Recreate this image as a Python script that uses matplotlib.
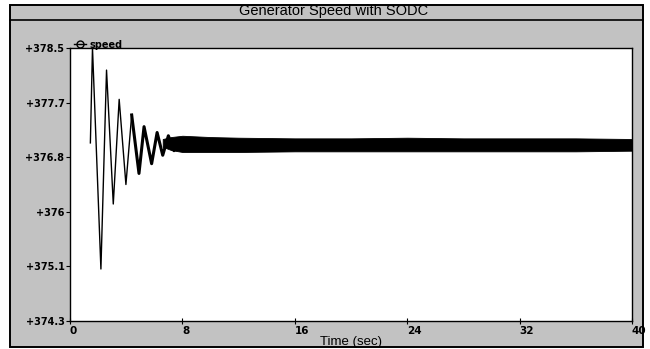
import matplotlib
matplotlib.use("Agg")
import matplotlib.pyplot as plt
from matplotlib.patches import Rectangle
from matplotlib.lines import Line2D

# Transient extremes of generator speed (time in s, speed)
trans_t = [1.45, 1.6, 2.2, 2.6, 3.08, 3.5, 3.98, 4.39, 4.91, 5.27, 5.81, 6.2, 6.6, 7.0, 7.4, 7.8]
trans_v = [377.04, 378.5, 375.1, 378.16, 376.1, 377.71, 376.4, 377.47, 376.57, 377.29,
           376.72, 377.2, 376.85, 377.15, 376.92, 377.08]

# Steady-state noise envelope (time, lower, upper)
band_t = [6.6, 7.2, 8, 10, 12, 16, 20, 24, 28, 32, 36, 40]
band_lo = [376.98, 376.93, 376.9, 376.9, 376.9, 376.91, 376.91, 376.91, 376.91, 376.91, 376.91, 376.92]
band_hi = [377.1, 377.13, 377.15, 377.13, 377.12, 377.11, 377.11, 377.12, 377.11, 377.11, 377.11, 377.1]

y_ticks = [374.3, 375.14, 375.98, 376.82, 377.66, 378.5]
y_labels = ["+374.3", "+375.1", "+376", "+376.8", "+377.7", "+378.5"]
x_ticks = [0, 8, 16, 24, 32, 40]
x_labels = ["0", "8", "16", "24", "32", "40"]

W, H = 650, 349
fig = plt.figure(figsize=(W / 100, H / 100), dpi=100)
fig.patch.set_facecolor("white")

bg = "#c2c2c2"
frame = Rectangle((10 / W, 1 - 347 / H), 633 / W, 342 / H, transform=fig.transFigure,
                  facecolor=bg, edgecolor="black", linewidth=1.4, zorder=-10)
fig.patches.append(frame)
fig.lines.append(Line2D([10 / W, 643 / W], [1 - 20 / H, 1 - 20 / H], transform=fig.transFigure,
                        color="black", linewidth=1.2, zorder=-9))
fig.text(334 / W, 1 - 11.5 / H, "Generator Speed with SODC", ha="center", va="center",
         fontsize=10.5, family="Liberation Sans")

ax = fig.add_axes([70 / W, 1 - 321 / H, 562 / W, 273 / H])
ax.set_zorder(5)
ax.set_facecolor("white")
ax.set_xlim(0, 40)
ax.set_ylim(374.3, 378.5)

ax.fill_between(band_t, band_lo, band_hi, color="black", linewidth=0.6, zorder=2)
ax.plot(trans_t[:8], trans_v[:8], color="black", linewidth=1.0, zorder=3)
ax.plot(trans_t[7:], trans_v[7:], color="black", linewidth=2.2, zorder=3)

ax.set_yticks(y_ticks)
ax.set_yticklabels(y_labels, fontsize=7, fontweight="bold")
ax.set_xticks(x_ticks)
ax.set_xticklabels(x_labels, fontsize=7.5, fontweight="bold", ha="left")
ax.tick_params(axis="y", direction="out", length=3, pad=1)
ax.tick_params(axis="x", direction="inout", length=5, pad=1)
for s in ax.spines.values():
    s.set_color("black")
    s.set_linewidth(1.0)

ax.set_xlabel("Time (sec)", fontsize=9.5, labelpad=0, family="Liberation Sans")

handle = Line2D([0], [0], color="black", linewidth=1.0, marker="o", markerfacecolor="none",
                markersize=5)
leg = ax.legend([handle], ["speed"], loc="lower left", bbox_to_anchor=(0.005, 0.99),
                frameon=False, fontsize=7, handlelength=1.3, handletextpad=0.3,
                borderpad=0.1, borderaxespad=0)
for t in leg.get_texts():
    t.set_fontweight("bold")

fig.savefig("out.png", dpi=100, facecolor="white")
